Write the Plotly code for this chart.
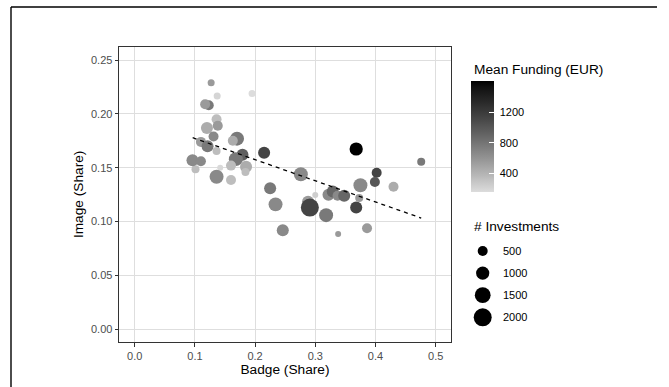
import numpy as np
import plotly.graph_objects as go

# ---------------- data ----------------
badge_share = [0.127, 0.137, 0.195, 0.123, 0.117, 0.136, 0.120, 0.138, 0.131, 0.170,
               0.163, 0.110, 0.121, 0.136, 0.179, 0.168, 0.101, 0.096, 0.110, 0.142,
               0.160, 0.185, 0.184, 0.136, 0.160, 0.215, 0.225, 0.276, 0.234, 0.246,
               0.288, 0.300, 0.291, 0.318, 0.322, 0.329, 0.337, 0.348, 0.338, 0.368,
               0.368, 0.476, 0.402, 0.399, 0.375, 0.430, 0.373, 0.386]
image_share = [0.229, 0.2166, 0.219, 0.208, 0.209, 0.195, 0.187, 0.189, 0.179, 0.177,
               0.175, 0.174, 0.170, 0.1655, 0.162, 0.158, 0.1486, 0.157, 0.156, 0.150,
               0.152, 0.151, 0.146, 0.1417, 0.1386, 0.164, 0.131, 0.144, 0.116, 0.092,
               0.1185, 0.1247, 0.113, 0.106, 0.125, 0.128, 0.124, 0.124, 0.0885, 0.113,
               0.1674, 0.1556, 0.1454, 0.1368, 0.1337, 0.1324, 0.122, 0.0938]
n_investments = [160, 160, 160, 500, 500, 500, 800, 500, 500, 1140,
                 500, 500, 800, 260, 800, 1140, 260, 800, 500, 72,
                 500, 800, 260, 1140, 500, 800, 800, 1140, 1140, 800,
                 800, 72, 2000, 1140, 800, 800, 500, 800, 72, 800,
                 1000, 260, 500, 500, 1140, 500, 260, 500]
mean_funding = [556, 200, 160, 776, 556, 345, 450, 556, 665, 776,
                450, 556, 776, 345, 950, 776, 345, 665, 665, 180,
                345, 450, 345, 665, 345, 1130, 776, 665, 665, 665,
                556, 243, 1130, 776, 665, 890, 665, 890, 556, 1130,
                1610, 776, 1130, 1008, 665, 450, 556, 556]

trend_badge = [0.0963, 0.476]
trend_image = [0.1779, 0.1033]

size_breaks = [500, 1000, 1500, 2000]
funding_ticks = [400, 800, 1200]
x_ticks = [0.0, 0.1, 0.2, 0.3, 0.4, 0.5]
y_ticks = [0.00, 0.05, 0.10, 0.15, 0.20, 0.25]

# ---------------- styling helpers ----------------
W, H = 669, 387
FONT = "Liberation Sans, Arial, Helvetica, sans-serif"


def fx(p):
    return p / W


def fy(p):
    return 1 - p / H


def diam(n):
    # area-linear size scale (ggplot scale_size style)
    return np.sqrt(25.3 + 0.1493 * np.asarray(n, dtype=float))


def srgb_from_L(L):
    Y = ((L + 16) / 116) ** 3 if L > 8 else L / 903.3
    v = 12.92 * Y if Y <= 0.0031308 else 1.055 * Y ** (1 / 2.4) - 0.055
    g = int(round(max(0, min(1, v)) * 255))
    return f"rgb({g},{g},{g})"


low_lin = ((220 / 255 + 0.055) / 1.055) ** 2.4
L0 = 116 * low_lin ** (1 / 3) - 16
colorscale = [[t, srgb_from_L(L0 * (1 - t))] for t in np.linspace(0, 1, 21)]
cmin, cmax = min(mean_funding), max(mean_funding)

# panel geometry (pixels)
PX0, PX1, PY0, PY1 = 119.3, 450.7, 46.7, 342.0

cb_common = dict(x=fx(471), xanchor="left", xpad=0,
                 y=fy(136.35), yanchor="middle", ypad=0,
                 len=110.7, lenmode="pixels", thickness=22.7,
                 thicknessmode="pixels", outlinewidth=0,
                 tickvals=funding_ticks)

fig = go.Figure()

# main points (colorbar carrying the labels)
fig.add_trace(go.Scatter(
    x=badge_share, y=image_share, mode="markers",
    marker=dict(size=diam(n_investments), sizemode="diameter",
                color=mean_funding, colorscale=colorscale, cmin=cmin, cmax=cmax,
                line=dict(width=0), opacity=1, showscale=True,
                colorbar=dict(**cb_common, ticks="outside", ticklen=4,
                              tickcolor="rgba(255,255,255,0)",
                              tickfont=dict(family=FONT, size=11, color="black"))),
    showlegend=False, hoverinfo="skip"))

# invisible copy that only contributes the colorbar with white inner ticks
fig.add_trace(go.Scatter(
    x=badge_share, y=image_share, mode="markers",
    marker=dict(size=1, color=mean_funding, colorscale=colorscale,
                cmin=cmin, cmax=cmax, opacity=0, showscale=True,
                colorbar=dict(**cb_common, ticks="inside", ticklen=4.5,
                              tickcolor="white", tickwidth=1,
                              showticklabels=False)),
    showlegend=False, hoverinfo="skip"))

fig.add_trace(go.Scatter(
    x=trend_badge, y=trend_image, mode="lines",
    line=dict(color="black", width=1.3, dash="4px,4px"),
    showlegend=False, hoverinfo="skip"))

# size legend keys on a hidden helper axis
key_idx = list(range(len(size_breaks)))
fig.add_trace(go.Scatter(
    x=[0] * len(size_breaks), y=key_idx, mode="markers",
    marker=dict(size=diam(size_breaks), sizemode="diameter", color="#000000",
                opacity=1, line=dict(width=0)),
    xaxis="x2", yaxis="y2", showlegend=False, hoverinfo="skip"))

annotations = []
for i, b in zip(key_idx, size_breaks):
    annotations.append(dict(x=fx(500.7), xref="paper", xanchor="left",
                            y=i, yref="y2", yanchor="middle", text=str(b),
                            showarrow=False,
                            font=dict(family=FONT, size=11, color="black")))
annotations.append(dict(x=fx(472.3), xref="paper", xanchor="left",
                        y=fy(69), yref="paper", yanchor="middle",
                        text="Mean Funding (EUR)", showarrow=False,
                        font=dict(family=FONT, size=13.7, color="black")))
annotations.append(dict(x=fx(472.3), xref="paper", xanchor="left",
                        y=fy(226.7), yref="paper", yanchor="middle",
                        text="# Investments", showarrow=False,
                        font=dict(family=FONT, size=13.7, color="black")))

shapes = [
    dict(type="line", xref="paper", yref="paper", x0=fx(11), x1=fx(11),
         y0=fy(7), y1=fy(387), line=dict(color="black", width=1.4)),
    dict(type="line", xref="paper", yref="paper", x0=fx(11), x1=fx(657),
         y0=fy(7), y1=fy(7), line=dict(color="black", width=1.4)),
]

axis_common = dict(showgrid=True, gridcolor="#dedede", gridwidth=1,
                   zeroline=False, showline=True, mirror=True,
                   linecolor="#333333", linewidth=1, ticks="outside",
                   ticklen=3.7, tickwidth=1, tickcolor="#333333",
                   tickfont=dict(family=FONT, size=11, color="#4d4d4d"),
                   automargin=False)

fig.update_layout(
    width=W, height=H, margin=dict(l=0, r=0, t=0, b=0),
    paper_bgcolor="white", plot_bgcolor="white",
    font=dict(family=FONT, color="black"),
    xaxis=dict(domain=[fx(PX0), fx(PX1)], range=[-0.0256, 0.525],
               tickvals=x_ticks, tickformat=".1f",
               title=dict(text="Badge (Share)", standoff=3,
                          font=dict(family=FONT, size=13.7, color="black")),
               **axis_common),
    yaxis=dict(domain=[fy(PY1), fy(PY0)], range=[-0.0118, 0.2624],
               tickvals=y_ticks, tickformat=".2f",
               title=dict(text="Image (Share)", standoff=4,
                          font=dict(family=FONT, size=13.7, color="black")),
               **axis_common),
    xaxis2=dict(domain=[fx(472.7), fx(492.7)], range=[-1, 1], visible=False,
                anchor="y2", fixedrange=True),
    yaxis2=dict(domain=[fy(328.35), fy(239.95)], range=[3.5, -0.5],
                visible=False, anchor="x2", fixedrange=True),
    annotations=annotations, shapes=shapes,
)

fig.write_html("out.html",
               config={"displayModeBar": False, "staticPlot": True},
               post_script="document.body.style.margin='0';"
                           "document.body.style.overflow='hidden';")
